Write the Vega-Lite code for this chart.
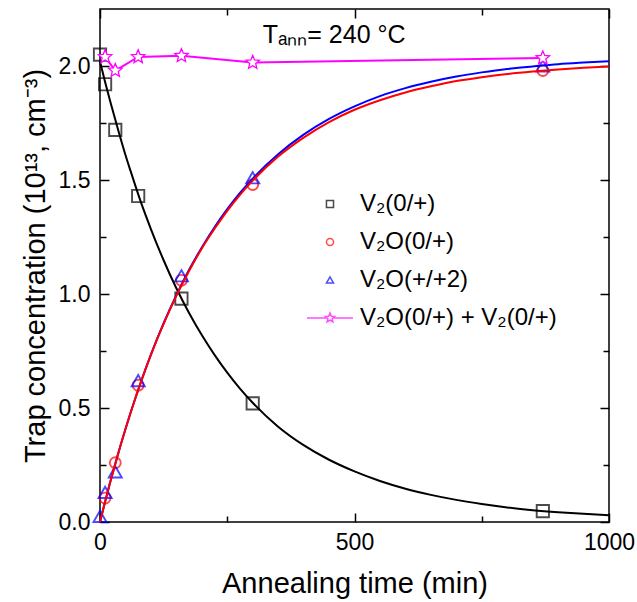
{
  "$schema": "https://vega.github.io/schema/vega-lite/v6.json",
  "width": 509,
  "height": 513,
  "autosize": "none",
  "padding": {"left": 100, "top": 9, "right": 28, "bottom": 80},
  "background": "white",
  "config": {
    "view": {"stroke": "black", "strokeWidth": 1.5},
    "font": "Liberation Sans",
    "axis": {"domain": false, "grid": false, "ticks": true, "tickColor": "black", "tickWidth": 1.5, "labelFont": "Liberation Sans", "labelFontSize": 23, "labelColor": "black", "titleFont": "Liberation Sans", "titleFontSize": 29, "titleFontWeight": "normal", "titleColor": "black", "labelOverlap": false, "labelFlush": false}
  },
  "datasets": {
    "points": [
      {"series": "V2", "t": 0, "c": 2.05},
      {"series": "V2", "t": 10, "c": 1.92},
      {"series": "V2", "t": 30, "c": 1.72},
      {"series": "V2", "t": 75, "c": 1.43},
      {"series": "V2", "t": 160, "c": 0.98},
      {"series": "V2", "t": 300, "c": 0.52},
      {"series": "V2", "t": 870, "c": 0.048},
      {"series": "V2O0", "t": 10, "c": 0.105},
      {"series": "V2O0", "t": 30, "c": 0.26},
      {"series": "V2O0", "t": 75, "c": 0.6},
      {"series": "V2O0", "t": 160, "c": 1.06},
      {"series": "V2O0", "t": 300, "c": 1.48},
      {"series": "V2O0", "t": 870, "c": 1.98},
      {"series": "V2O2", "t": 0, "c": 0.025},
      {"series": "V2O2", "t": 10, "c": 0.13},
      {"series": "V2O2", "t": 30, "c": 0.22},
      {"series": "V2O2", "t": 75, "c": 0.62},
      {"series": "V2O2", "t": 160, "c": 1.08},
      {"series": "V2O2", "t": 300, "c": 1.51},
      {"series": "V2O2", "t": 870, "c": 2.0},
      {"series": "sum", "t": 10, "c": 2.04},
      {"series": "sum", "t": 30, "c": 1.98},
      {"series": "sum", "t": 75, "c": 2.04},
      {"series": "sum", "t": 160, "c": 2.045},
      {"series": "sum", "t": 300, "c": 2.015},
      {"series": "sum", "t": 870, "c": 2.035}
    ],
    "fits": [
      {"curve": "V2", "t": 0, "c": 2.02}, {"curve": "V2", "t": 10, "c": 1.93}, {"curve": "V2", "t": 20, "c": 1.845}, {"curve": "V2", "t": 30, "c": 1.765}, {"curve": "V2", "t": 40, "c": 1.685}, {"curve": "V2", "t": 50, "c": 1.61}, {"curve": "V2", "t": 60, "c": 1.54}, {"curve": "V2", "t": 80, "c": 1.405}, {"curve": "V2", "t": 100, "c": 1.285}, {"curve": "V2", "t": 125, "c": 1.148}, {"curve": "V2", "t": 150, "c": 1.025}, {"curve": "V2", "t": 175, "c": 0.917}, {"curve": "V2", "t": 200, "c": 0.82}, {"curve": "V2", "t": 225, "c": 0.733}, {"curve": "V2", "t": 250, "c": 0.655}, {"curve": "V2", "t": 275, "c": 0.585}, {"curve": "V2", "t": 300, "c": 0.523}, {"curve": "V2", "t": 350, "c": 0.418}, {"curve": "V2", "t": 400, "c": 0.337}, {"curve": "V2", "t": 450, "c": 0.273}, {"curve": "V2", "t": 500, "c": 0.222}, {"curve": "V2", "t": 550, "c": 0.18}, {"curve": "V2", "t": 600, "c": 0.146}, {"curve": "V2", "t": 650, "c": 0.119}, {"curve": "V2", "t": 700, "c": 0.097}, {"curve": "V2", "t": 750, "c": 0.079}, {"curve": "V2", "t": 800, "c": 0.064}, {"curve": "V2", "t": 850, "c": 0.052}, {"curve": "V2", "t": 900, "c": 0.043}, {"curve": "V2", "t": 950, "c": 0.036}, {"curve": "V2", "t": 1000, "c": 0.03},
      {"curve": "V2O0", "t": 0, "c": 0.0}, {"curve": "V2O0", "t": 10, "c": 0.089}, {"curve": "V2O0", "t": 20, "c": 0.174}, {"curve": "V2O0", "t": 30, "c": 0.255}, {"curve": "V2O0", "t": 40, "c": 0.333}, {"curve": "V2O0", "t": 50, "c": 0.407}, {"curve": "V2O0", "t": 60, "c": 0.478}, {"curve": "V2O0", "t": 80, "c": 0.611}, {"curve": "V2O0", "t": 100, "c": 0.733}, {"curve": "V2O0", "t": 125, "c": 0.869}, {"curve": "V2O0", "t": 150, "c": 0.992}, {"curve": "V2O0", "t": 175, "c": 1.101}, {"curve": "V2O0", "t": 200, "c": 1.2}, {"curve": "V2O0", "t": 225, "c": 1.286}, {"curve": "V2O0", "t": 250, "c": 1.365}, {"curve": "V2O0", "t": 275, "c": 1.435}, {"curve": "V2O0", "t": 300, "c": 1.497}, {"curve": "V2O0", "t": 350, "c": 1.603}, {"curve": "V2O0", "t": 400, "c": 1.686}, {"curve": "V2O0", "t": 450, "c": 1.754}, {"curve": "V2O0", "t": 500, "c": 1.808}, {"curve": "V2O0", "t": 550, "c": 1.85}, {"curve": "V2O0", "t": 600, "c": 1.884}, {"curve": "V2O0", "t": 650, "c": 1.911}, {"curve": "V2O0", "t": 700, "c": 1.934}, {"curve": "V2O0", "t": 750, "c": 1.951}, {"curve": "V2O0", "t": 800, "c": 1.965}, {"curve": "V2O0", "t": 850, "c": 1.976}, {"curve": "V2O0", "t": 900, "c": 1.985}, {"curve": "V2O0", "t": 950, "c": 1.992}, {"curve": "V2O0", "t": 1000, "c": 1.998},
      {"curve": "V2O2", "t": 0, "c": 0.0}, {"curve": "V2O2", "t": 10, "c": 0.089}, {"curve": "V2O2", "t": 20, "c": 0.174}, {"curve": "V2O2", "t": 30, "c": 0.255}, {"curve": "V2O2", "t": 40, "c": 0.333}, {"curve": "V2O2", "t": 50, "c": 0.408}, {"curve": "V2O2", "t": 60, "c": 0.479}, {"curve": "V2O2", "t": 80, "c": 0.612}, {"curve": "V2O2", "t": 100, "c": 0.734}, {"curve": "V2O2", "t": 125, "c": 0.872}, {"curve": "V2O2", "t": 150, "c": 0.995}, {"curve": "V2O2", "t": 175, "c": 1.106}, {"curve": "V2O2", "t": 200, "c": 1.204}, {"curve": "V2O2", "t": 225, "c": 1.293}, {"curve": "V2O2", "t": 250, "c": 1.372}, {"curve": "V2O2", "t": 275, "c": 1.443}, {"curve": "V2O2", "t": 300, "c": 1.506}, {"curve": "V2O2", "t": 350, "c": 1.613}, {"curve": "V2O2", "t": 400, "c": 1.699}, {"curve": "V2O2", "t": 450, "c": 1.768}, {"curve": "V2O2", "t": 500, "c": 1.823}, {"curve": "V2O2", "t": 550, "c": 1.868}, {"curve": "V2O2", "t": 600, "c": 1.903}, {"curve": "V2O2", "t": 650, "c": 1.931}, {"curve": "V2O2", "t": 700, "c": 1.954}, {"curve": "V2O2", "t": 750, "c": 1.972}, {"curve": "V2O2", "t": 800, "c": 1.987}, {"curve": "V2O2", "t": 850, "c": 1.998}, {"curve": "V2O2", "t": 900, "c": 2.008}, {"curve": "V2O2", "t": 950, "c": 2.015}, {"curve": "V2O2", "t": 1000, "c": 2.021}
    ],
    "legendRows": [
      {"name": "V₂(0/+)"},
      {"name": "V₂O(0/+)"},
      {"name": "V₂O(+/+2)"},
      {"name": "V₂O(0/+) + V₂(0/+)"}
    ],
    "note": [
      {"label": "Tₐₙₙ= 240 °C"}
    ]
  },
  "layer": [
    {
      "data": {"name": "points"},
      "transform": [{"filter": "datum.series === 'V2'"}],
      "mark": {"type": "point", "shape": "square", "filled": false, "color": "black", "size": 150, "strokeWidth": 1.9},
      "encoding": {
        "x": {"field": "t", "type": "quantitative", "scale": {"domain": [0, 1000], "nice": false, "zero": false},
          "axis": {"orient": "bottom", "values": [0, 500, 1000], "tickSize": -9, "labelPadding": 18, "labelExpr": "format(datum.value, 'd')", "title": "Annealing time (min)", "titleBaseline": "alphabetic", "titleY": 70}},
        "y": {"field": "c", "type": "quantitative", "scale": {"domain": [0, 2.25], "nice": false, "zero": false},
          "axis": {"orient": "left", "values": [0, 0.5, 1, 1.5, 2], "tickSize": -9, "labelPadding": 19, "labelExpr": "format(datum.value, '.1f')", "title": "Trap concentration (10¹³, cm⁻³)", "titleBaseline": "alphabetic", "titleX": -56, "titleY": 256.5, "titleAngle": -90}}
      }
    },
    {
      "data": {"name": "points"},
      "transform": [{"filter": "datum.series === 'V2O0'"}],
      "mark": {"type": "point", "shape": "circle", "filled": false, "color": "red", "size": 120, "strokeWidth": 1.9},
      "encoding": {
        "x": {"field": "t", "type": "quantitative", "scale": {"domain": [0, 1000], "nice": false, "zero": false},
          "axis": {"orient": "bottom", "values": [250, 750], "tickSize": -6, "labels": false, "title": null}},
        "y": {"field": "c", "type": "quantitative", "scale": {"domain": [0, 2.25], "nice": false, "zero": false},
          "axis": {"orient": "left", "values": [0.25, 0.75, 1.25, 1.75], "tickSize": -6, "labels": false, "title": null}}
      }
    },
    {
      "data": {"name": "points"},
      "transform": [{"filter": "datum.series === 'V2O2'"}],
      "mark": {"type": "point", "shape": "triangle-up", "filled": false, "color": "blue", "size": 170, "strokeWidth": 1.9},
      "encoding": {
        "x": {"field": "t", "type": "quantitative", "scale": {"domain": [0, 1000], "nice": false, "zero": false},
          "axis": {"orient": "top", "values": [0, 500, 1000], "tickSize": -9, "labels": false, "title": null}},
        "y": {"field": "c", "type": "quantitative", "scale": {"domain": [0, 2.25], "nice": false, "zero": false},
          "axis": {"orient": "right", "values": [0, 0.5, 1, 1.5, 2], "tickSize": -9, "labels": false, "title": null}}
      }
    },
    {
      "data": {"name": "fits"},
      "transform": [{"filter": "datum.curve === 'V2'"}],
      "mark": {"type": "line", "color": "black", "strokeWidth": 2, "interpolate": "monotone"},
      "encoding": {
        "x": {"field": "t", "type": "quantitative", "scale": {"domain": [0, 1000], "nice": false, "zero": false},
          "axis": {"orient": "top", "values": [250, 750], "tickSize": -6, "labels": false, "title": null}},
        "y": {"field": "c", "type": "quantitative", "scale": {"domain": [0, 2.25], "nice": false, "zero": false},
          "axis": {"orient": "right", "values": [0.25, 0.75, 1.25, 1.75], "tickSize": -6, "labels": false, "title": null}}
      }
    },
    {
      "data": {"name": "fits"},
      "transform": [{"filter": "datum.curve === 'V2O2'"}],
      "mark": {"type": "line", "color": "blue", "strokeWidth": 2, "interpolate": "monotone"},
      "encoding": {
        "x": {"field": "t", "type": "quantitative", "axis": null},
        "y": {"field": "c", "type": "quantitative", "axis": null}
      }
    },
    {
      "data": {"name": "fits"},
      "transform": [{"filter": "datum.curve === 'V2O0'"}],
      "mark": {"type": "line", "color": "red", "strokeWidth": 2, "interpolate": "monotone"},
      "encoding": {
        "x": {"field": "t", "type": "quantitative", "axis": null},
        "y": {"field": "c", "type": "quantitative", "axis": null}
      }
    },
    {
      "data": {"name": "points"},
      "transform": [{"filter": "datum.series === 'sum'"}],
      "mark": {"type": "line", "color": "#ff00ff", "strokeWidth": 2},
      "encoding": {
        "x": {"field": "t", "type": "quantitative", "axis": null},
        "y": {"field": "c", "type": "quantitative", "axis": null}
      }
    },
    {
      "data": {"name": "points"},
      "transform": [{"filter": "datum.series === 'sum'"}],
      "mark": {"type": "point", "shape": "M0,-1L0.265,-0.364L0.951,-0.309L0.428,0.139L0.588,0.809L0,0.45L-0.588,0.809L-0.428,0.139L-0.951,-0.309L-0.265,-0.364Z", "filled": true, "fill": "white", "stroke": "#ff00ff", "size": 200, "strokeWidth": 1.3, "opacity": 1},
      "encoding": {
        "x": {"field": "t", "type": "quantitative", "axis": null},
        "y": {"field": "c", "type": "quantitative", "axis": null}
      }
    },
    {
      "data": {"name": "legendRows"},
      "mark": {"type": "point", "filled": false, "strokeWidth": 1.5},
      "encoding": {
        "x": {"field": "t", "type": "quantitative", "axis": null},
        "y": {"field": "c", "type": "quantitative", "axis": null},
        "color": {"field": "name", "type": "nominal",
          "scale": {"domain": ["V₂(0/+)", "V₂O(0/+)", "V₂O(+/+2)", "V₂O(0/+) + V₂(0/+)"], "range": ["black", "red", "blue", "#ff00ff"]},
          "legend": {"title": null, "orient": "none", "legendX": 218, "legendY": 183, "symbolSize": 50, "symbolStrokeWidth": 1.5, "labelFont": "Liberation Sans", "labelFontSize": 24, "labelColor": "black", "labelOffset": 18, "rowPadding": 14, "padding": 0, "labelLimit": 400}},
        "shape": {"field": "name", "type": "nominal",
          "scale": {"domain": ["V₂(0/+)", "V₂O(0/+)", "V₂O(+/+2)", "V₂O(0/+) + V₂(0/+)"], "range": ["square", "circle", "triangle-up", "M0,-1.4L0.37,-0.51L1.331,-0.433L0.599,0.195L0.823,1.133L0,0.63L-0.823,1.133L-0.599,0.195L-1.331,-0.433L-0.37,-0.51ZM-6.5,0L-0.75,0M0.75,0L6.5,0"]},
          "legend": {"title": null, "orient": "none", "legendX": 218, "legendY": 183, "symbolSize": 50, "symbolStrokeWidth": 1.5, "labelFont": "Liberation Sans", "labelFontSize": 24, "labelColor": "black", "labelOffset": 18, "rowPadding": 14, "padding": 0, "labelLimit": 400}}
      }
    },
    {
      "data": {"name": "note"},
      "mark": {"type": "text", "font": "Liberation Sans", "fontSize": 25, "color": "black", "align": "center", "baseline": "alphabetic"},
      "encoding": {
        "x": {"datum": 460, "type": "quantitative", "axis": null},
        "y": {"datum": 2.103, "type": "quantitative", "axis": null},
        "text": {"field": "label"}
      }
    }
  ],
  "resolve": {"axis": {"x": "independent", "y": "independent"}}
}
